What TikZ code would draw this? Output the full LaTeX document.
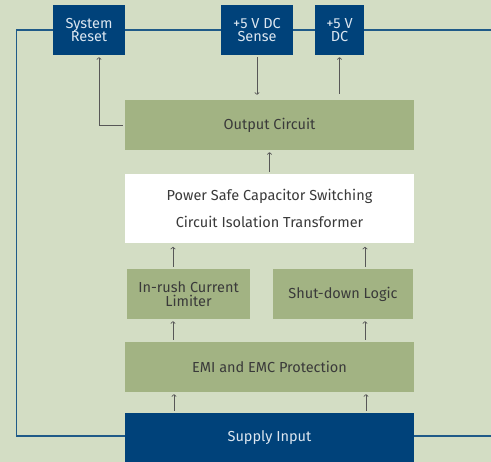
\documentclass[tikz,border=0pt]{standalone}
\usepackage{fontspec}
\setmainfont{Fira Sans}
\usetikzlibrary{arrows.meta,positioning}
\definecolor{canvas}{HTML}{D3DDC4}
\definecolor{leaf}{HTML}{A2B383}
\definecolor{navy}{HTML}{00427A}
\definecolor{wire}{HTML}{1F5A88}
\definecolor{ink}{HTML}{3A3A3A}
\definecolor{pale}{HTML}{DCE6F0}

\begin{document}
\begin{tikzpicture}[
  x=1pt, y=-1pt, >={To[length=2.6pt,width=5pt]},
  font=\fontsize{14.5}{13.5}\selectfont,
  blk/.style={fill=leaf, text=ink, inner sep=0pt, align=center,
    minimum width=#1, minimum height=50pt},
  blk/.default=289pt,
  tag/.style={fill=navy, text=pale, inner sep=0pt, align=center,
    minimum width=#1, minimum height=50pt},
  sig/.style={->, ink!85, line width=0.7pt, shorten >=2pt, shorten <=2pt},
  loopline/.style={wire, line width=1.2pt}]

% ---- canvas -----------------------------------------------------------
\fill[canvas] (0,0) rectangle (491,462);
\useasboundingbox (0,0) rectangle (491,462);

% ---- top row ----------------------------------------------------------
\node[tag=72pt] (reset) at (89,30) {System\\Reset};
\node[tag=72pt] (sense) at (257,30) {+5 V DC\\Sense};
\node[tag=49pt] (dc) at (339.5,30) {+5 V\\DC};

% ---- main chain -------------------------------------------------------
\node[blk] (out) at (269.5,125) {Output Circuit};
\node[fill=white, text=ink, inner sep=0pt, align=center, minimum width=289pt,
  minimum height=68.7pt, font=\fontsize{14.5}{26.5}\selectfont] (xfmr) at (269.5,208.3)
  {Power Safe Capacitor Switching\\Circuit Isolation Transformer};
\node[blk=123pt] (inrush) at (188.5,294) {In-rush Current\\Limiter};
\node[blk=140pt] (shut) at (343,294) {Shut-down Logic};
\node[blk] (emi) at (269.5,367) {EMI and EMC Protection};
\node[tag=289pt, minimum height=49pt] (supply) at (269.5,437.5) {Supply Input};

% ---- feedback loop ----------------------------------------------------
\coordinate (lcorner) at (16.5,436);
\coordinate (redge) at (491,436);
\coordinate (tedge) at (491,30);
\draw[loopline] (supply.west |- lcorner) -- (lcorner) |- (reset.west);
\draw[loopline] (reset.east) -- (sense.west);
\draw[loopline] (sense.east) -- (dc.west);
\draw[loopline] (dc.east) -- (tedge);
\draw[loopline] (supply.east |- redge) -- (redge);

% ---- signal arrows ----------------------------------------------------
\draw[sig] (out.west) -| (reset.south -| 99,0);
\draw[sig, shorten >=5pt] (sense.south) -- (sense.south |- out.north);
\draw[sig, shorten <=6pt] (dc.south |- out.north) -- (dc.south);
\draw[sig] (xfmr.north) -- (out.south);
\draw[sig, shorten >=4pt] (inrush.north -| 173,0) -- (xfmr.south -| 173,0);
\draw[sig, shorten >=4pt] (shut.north -| 365,0) -- (xfmr.south -| 365,0);
\draw[sig] (emi.north -| 173,0) -- (inrush.south -| 173,0);
\draw[sig] (emi.north -| 365,0) -- (shut.south -| 365,0);
\draw[sig] (supply.north -| 174,0) -- (emi.south -| 174,0);
\draw[sig] (supply.north -| 366,0) -- (emi.south -| 366,0);

\end{tikzpicture}
\end{document}
